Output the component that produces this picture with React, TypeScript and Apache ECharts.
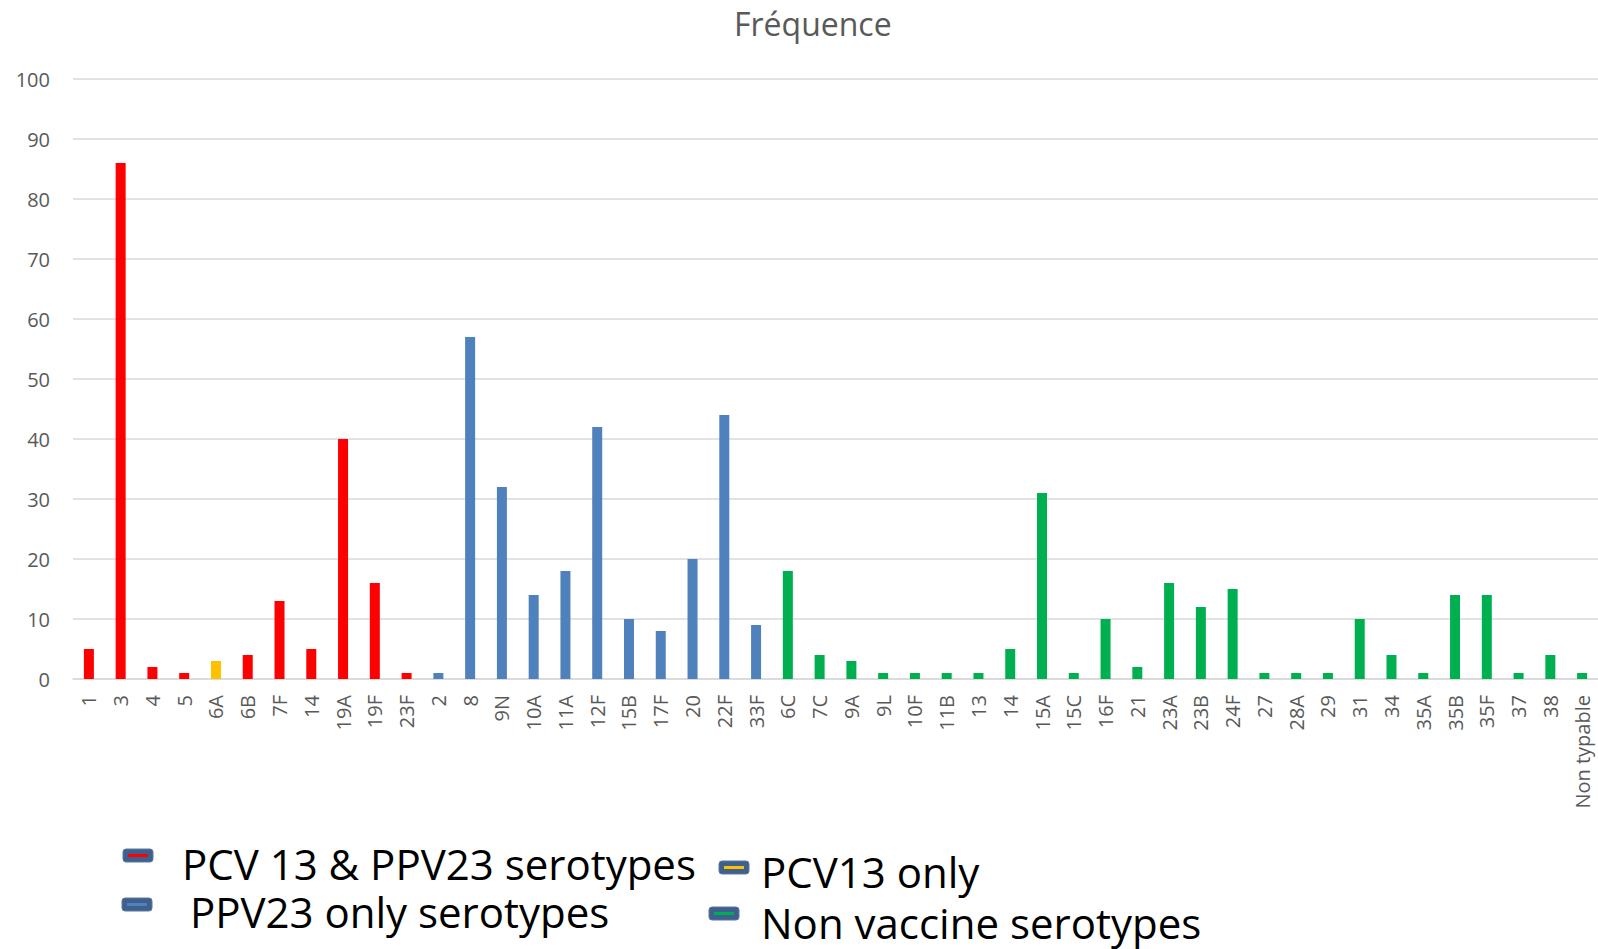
import React, { useEffect, useRef } from "react";
import * as echarts from "echarts";

const categories = [
  "1", "3", "4", "5", "6A", "6B", "7F", "14", "19A", "19F", "23F",
  "2", "8", "9N", "10A", "11A", "12F", "15B", "17F", "20", "22F", "33F",
  "6C", "7C", "9A", "9L", "10F", "11B", "13", "14", "15A", "15C", "16F", "21",
  "23A", "23B", "24F", "27", "28A", "29", "31", "34", "35A", "35B", "35F", "37", "38", "Non typable",
];

const values = [
  5, 86, 2, 1, 3, 4, 13, 5, 40, 16, 1,
  1, 57, 32, 14, 18, 42, 10, 8, 20, 44, 9,
  18, 4, 3, 1, 1, 1, 1, 5, 31, 1, 10, 2,
  16, 12, 15, 1, 1, 1, 10, 4, 1, 14, 14, 1, 4, 1,
];

// 0: PCV13 & PPV23, 1: PPV23 only, 2: PCV13 only, 3: non vaccine
const groups = [
  0, 0, 0, 0, 2, 0, 0, 0, 0, 0, 0,
  1, 1, 1, 1, 1, 1, 1, 1, 1, 1, 1,
  3, 3, 3, 3, 3, 3, 3, 3, 3, 3, 3, 3,
  3, 3, 3, 3, 3, 3, 3, 3, 3, 3, 3, 3, 3, 3,
];

const groupNames = [
  "PCV 13 & PPV23 serotypes",
  " PPV23 only serotypes",
  "PCV13 only",
  "Non vaccine serotypes",
];

const groupColors = ["#FF0000", "#4F81BD", "#FFC000", "#00B050"];

const title = "Fréquence";

export default function App() {
  const ref = useRef<HTMLDivElement>(null);

  useEffect(() => {
    if (!ref.current) return;
    const chart = echarts.init(ref.current, null, { renderer: "svg" });
    const font = "'Open Sans', 'Noto Sans', sans-serif";

    const legendPos = [
      { ix: 123, iy: 849, tx: 182, ty: 863 },
      { ix: 122, iy: 898, tx: 179, ty: 911 },
      { ix: 719, iy: 861, tx: 761, ty: 871 },
      { ix: 709, iy: 907, tx: 761, ty: 922 },
    ];

    const legendGraphics: any[] = [];
    groupNames.forEach((name, i) => {
      const p = legendPos[i];
      legendGraphics.push({
        type: "rect",
        shape: { x: p.ix, y: p.iy, width: 30, height: 13, r: 3 },
        style: { fill: "#3F5F8D", stroke: "#5A78A3", lineWidth: 1 },
      });
      legendGraphics.push({
        type: "rect",
        shape: { x: p.ix + 5, y: p.iy + 5, width: 20, height: 3 },
        style: { fill: groupColors[i] },
      });
      legendGraphics.push({
        type: "text",
        x: p.tx,
        y: p.ty,
        style: {
          text: name,
          fill: "#000000",
          fontSize: 42,
          lineHeight: 42,
          fontFamily: font,
          verticalAlign: "middle",
          align: "left",
        },
      });
    });

    chart.setOption({
      animation: false,
      backgroundColor: "#ffffff",
      title: {
        text: title,
        left: 729,
        top: 2,
        textStyle: { color: "#595959", fontSize: 32, fontWeight: "normal", fontFamily: font },
      },
      grid: { left: 73, top: 79, right: 0, height: 600, containLabel: false },
      xAxis: {
        type: "category",
        data: categories,
        axisLine: { lineStyle: { color: "#D9D9D9", width: 1.5 } },
        axisTick: { show: false },
        axisLabel: {
          rotate: 90,
          interval: 0,
          margin: 16,
          color: "#595959",
          fontSize: 20,
          fontFamily: font,
        },
      },
      yAxis: {
        type: "value",
        min: 0,
        max: 100,
        interval: 10,
        axisLine: { show: false },
        axisTick: { show: false },
        splitLine: { lineStyle: { color: "#D9D9D9", width: 1.5 } },
        axisLabel: { color: "#595959", fontSize: 20, fontFamily: font, margin: 23 },
      },
      series: [
        {
          type: "bar",
          barWidth: 10,
          data: values.map((v, i) => ({
            value: v,
            itemStyle: { color: groupColors[groups[i]] },
          })),
        },
      ],
      graphic: legendGraphics,
    });

    return () => chart.dispose();
  }, []);

  return (
    <div
      ref={ref}
      style={{ position: "fixed", left: 0, top: 0, width: 1598, height: 949, background: "#fff" }}
    />
  );
}
